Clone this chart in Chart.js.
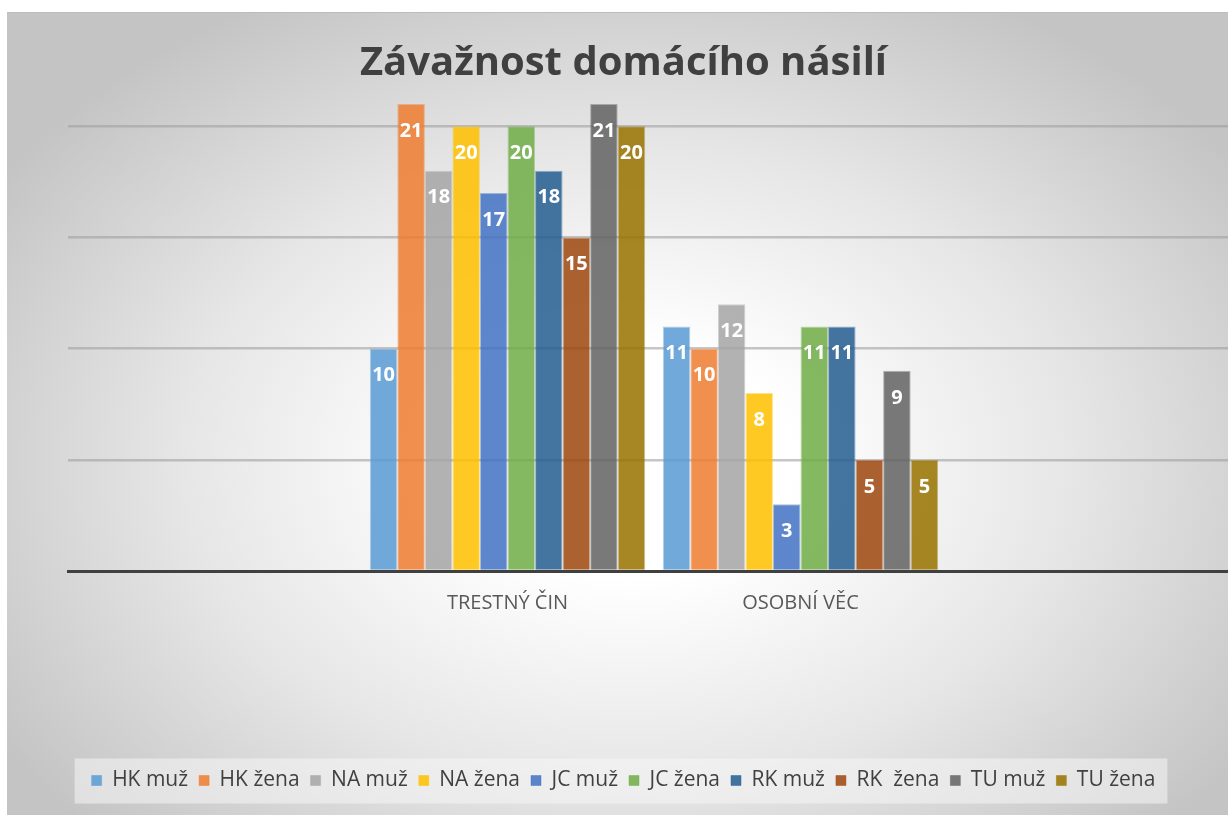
<!DOCTYPE html>
<html><head><meta charset="utf-8">
<script src="https://cdn.jsdelivr.net/npm/chart.js@4/dist/chart.umd.min.js"></script>
<style>
html,body{margin:0;padding:0;overflow:hidden;background:#fff;width:1228px;height:815px;}
#bg{position:absolute;left:7px;top:12px;width:1240px;height:803px;
 background: radial-gradient(ellipse 60% 66% at 50% 56%, #ffffff 0%, #ffffff 22%, #e6e6e6 60%, #c4c4c4 100%);
 border-top:1px solid #bcbcbc;box-sizing:border-box;}
#c{position:absolute;left:7px;top:12px;}
</style></head>
<body>
<div id="bg"></div>
<canvas id="c" width="1233" height="803"></canvas>
<script>
const chartTitle = 'Závažnost domácího násilí';
const categories = ['', 'TRESTNÝ ČIN', 'OSOBNÍ VĚC', ''];
const seriesNames = ['HK muž','HK žena','NA muž','NA žena','JC muž','JC žena','RK muž','RK  žena','TU muž','TU žena'];
const hkMuz  = [null, 10, 11, null];
const hkZena = [null, 21, 10, null];
const naMuz  = [null, 18, 12, null];
const naZena = [null, 20, 8, null];
const jcMuz  = [null, 17, 3, null];
const jcZena = [null, 20, 11, null];
const rkMuz  = [null, 18, 11, null];
const rkZena = [null, 15, 5, null];
const tuMuz  = [null, 21, 9, null];
const tuZena = [null, 20, 5, null];
const gridTicks = [0, 5, 10, 15, 20];

const seriesValues = [hkMuz, hkZena, naMuz, naZena, jcMuz, jcZena, rkMuz, rkZena, tuMuz, tuZena];
const colors = ['91,155,213','237,125,49','165,165,165','255,192,0','68,114,196','112,173,71','37,94,145','158,72,14','99,99,99','153,115,0'];

Chart.defaults.font.family = "'Open Sans', sans-serif";

const legendBg = {
  id: 'legendBg',
  beforeDraw(chart) {
    const lg = chart.legend;
    if (!lg || !lg.legendHitBoxes || !lg.legendHitBoxes.length) return;
    const hb = lg.legendHitBoxes;
    const l = hb[0].left - 17;
    const last = hb[hb.length - 1];
    const r = last.left + last.width + 12;
    const cy = hb[0].top + hb[0].height / 2;
    const ctx = chart.ctx;
    ctx.save();
    ctx.fillStyle = 'rgba(245,245,245,0.55)';
    ctx.fillRect(l, cy - 22, r - l, 45);
    ctx.restore();
  }
};

const valueLabels = {
  id: 'valueLabels',
  afterDatasetsDraw(chart) {
    const ctx = chart.ctx;
    ctx.save();
    ctx.font = "bold 20px 'Open Sans', sans-serif";
    ctx.fillStyle = '#ffffff';
    ctx.textAlign = 'center';
    ctx.textBaseline = 'middle';
    chart.data.datasets.forEach((ds, i) => {
      const meta = chart.getDatasetMeta(i);
      meta.data.forEach((el, j) => {
        const v = ds.data[j];
        if (v == null) return;
        ctx.fillText(String(v), el.x, el.y + 27);
      });
    });
    ctx.restore();
  }
};

new Chart(document.getElementById('c'), {
  type: 'bar',
  data: {
    labels: categories,
    datasets: seriesNames.map((name, i) => ({
      label: name,
      data: seriesValues[i],
      backgroundColor: 'rgba(' + colors[i] + ',0.86)',
      borderColor: 'rgba(' + colors[i] + ',0.45)',
      borderWidth: 1,
      categoryPercentage: 0.94,
      barPercentage: 1.0
    }))
  },
  options: {
    responsive: false,
    animation: false,
    layout: { padding: { left: 0, right: 0, top: 0, bottom: 14 } },
    plugins: {
      title: {
        display: true,
        text: chartTitle,
        color: '#404040',
        font: { size: 40, weight: 'bold', lineHeight: 1.2 },
        padding: { top: 28, bottom: 16 }
      },
      legend: {
        display: true,
        position: 'bottom',
        labels: {
          color: '#404040',
          font: { size: 21 },
          boxWidth: 10,
          boxHeight: 10,
          padding: 11
        }
      },
      tooltip: { enabled: false }
    },
    scales: {
      x: {
        grid: { display: false, drawTicks: false },
        border: { display: true, color: '#404040', width: 3 },
        ticks: { color: '#595959', font: { size: 20 }, padding: 20, maxRotation: 0, autoSkip: false },
        afterFit(s) { s.height = 188; }
      },
      y: {
        min: 0,
        max: 21,
        ticks: { display: false },
        border: { display: false },
        grid: {
          drawTicks: false,
          lineWidth: 2.5,
          color: (c) => (c.tick && c.tick.value === 0) ? 'rgba(0,0,0,0)' : 'rgba(160,160,160,0.6)'
        },
        afterBuildTicks(s) { s.ticks = gridTicks.map(v => ({ value: v })); },
        afterFit(s) { s.width = 61; }
      }
    }
  },
  plugins: [legendBg, valueLabels]
});
</script>
</body></html>
